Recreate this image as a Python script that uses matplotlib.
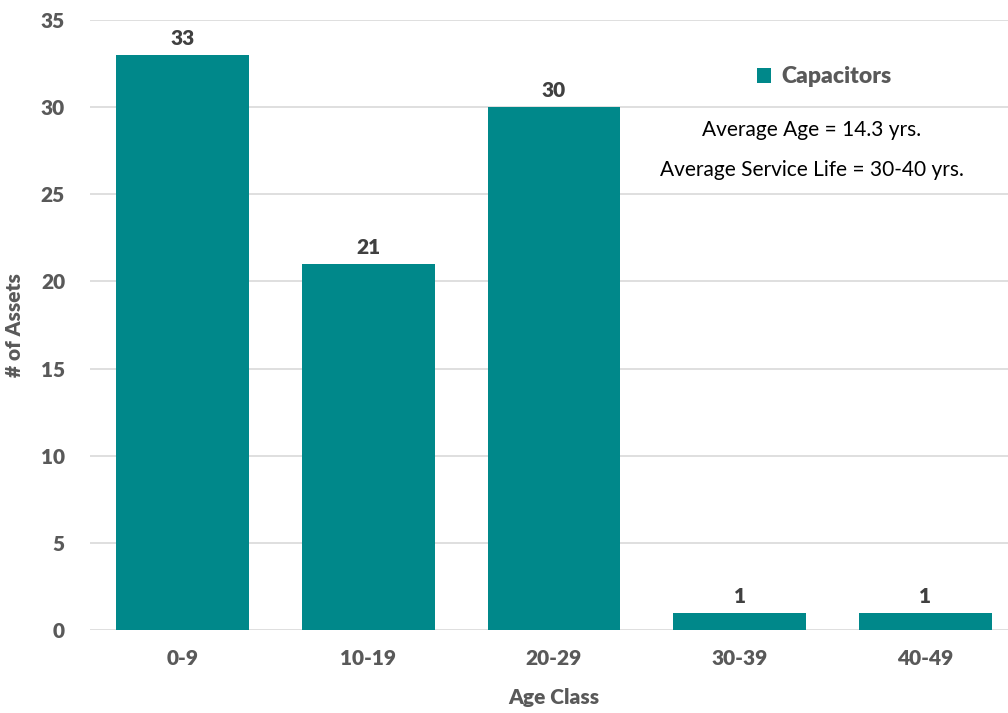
import numpy as np
import matplotlib.pyplot as plt

plt.rcParams['font.family'] = ['Lato', 'DejaVu Sans']

# age class counts
age_classes = ['0-9', '10-19', '20-29', '30-39', '40-49']
counts = [33, 21, 30, 1, 1]

teal = '#00888A'
grey = '#595959'

fig = plt.figure(figsize=(10.08, 7.13), dpi=100)
ax = fig.add_axes([0.0893, 0.1164, 0.9206, 0.8555])

x = np.arange(len(age_classes))
bars = ax.bar(x, counts, width=0.715, color=teal, label='Capacitors', zorder=3)
for b, v in zip(bars, counts):
    ax.text(b.get_x() + b.get_width() / 2, v + 0.4, str(v), ha='center', va='bottom',
            fontsize=15, fontweight='heavy', color='#404040')

ax.set_xlim(-0.5, len(age_classes) - 0.5)
ax.set_ylim(0, 35)
ax.set_yticks(range(0, 36, 5))
ax.set_xticks(x)
ax.set_xticklabels(age_classes)
ax.grid(axis='y', color='#D9D9D9', linewidth=1.2, zorder=0)
for s in ax.spines.values():
    s.set_visible(False)
ax.tick_params(length=0, labelsize=15, labelcolor=grey, pad=14)
for t in ax.get_xticklabels() + ax.get_yticklabels():
    t.set_fontweight('heavy')
ax.tick_params(axis='y', pad=18)

ax.set_xlabel('Age Class', fontsize=15, fontweight='heavy', color=grey, labelpad=14)
ax.set_ylabel('# of Assets', fontsize=15, fontweight='heavy', color=grey, labelpad=12)

leg = ax.legend(loc='upper left', bbox_to_anchor=(0.696, 0.958), frameon=False,
                handlelength=0.65, handleheight=0.65, handletextpad=0.45,
                prop={'size': 16.5, 'weight': 'heavy'})
for t in leg.get_texts():
    t.set_color(grey)

fig.text(0.805, 0.818, 'Average Age = 14.3 yrs.', ha='center', va='center',
         fontsize=15, color='black')
fig.text(0.805, 0.762, 'Average Service Life = 30-40 yrs.', ha='center', va='center',
         fontsize=15, color='black')

fig.savefig('out.png', dpi=100)
